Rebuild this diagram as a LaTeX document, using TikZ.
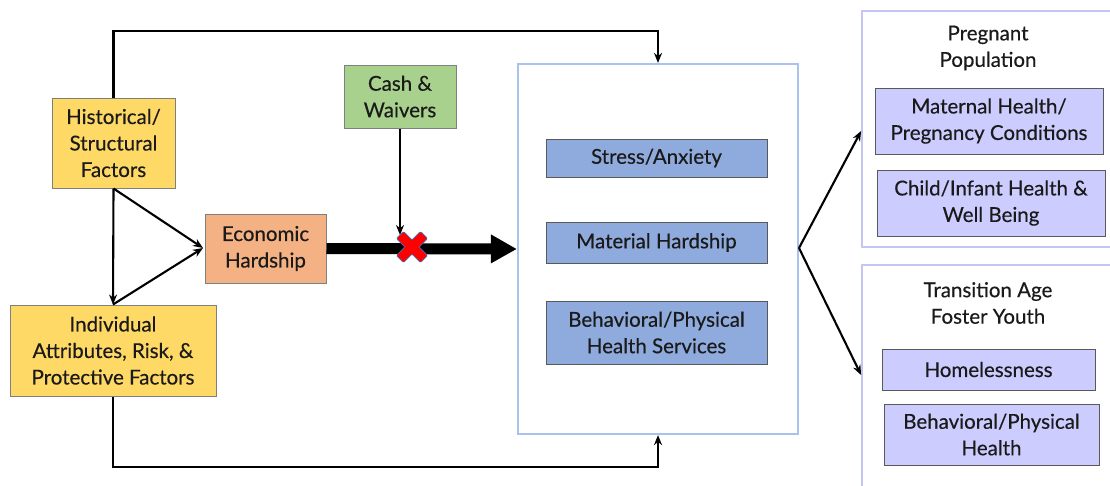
\documentclass[tikz,border=0pt]{standalone}
\usepackage{fontspec}
\setmainfont{Lato}[FakeBold=0.35]
\usetikzlibrary{arrows.meta}

\definecolor{histfill}{HTML}{FFD966}
\definecolor{econfill}{HTML}{F4B183}
\definecolor{cashfill}{HTML}{A9D18E}
\definecolor{medfill}{HTML}{8FAADC}
\definecolor{outfill}{HTML}{CCCCFF}
\definecolor{panelline}{HTML}{C3C6F2}
\definecolor{bigline}{HTML}{A9C2EE}
\definecolor{boxline}{HTML}{7F7F7F}
\definecolor{txt}{HTML}{1A1A1A}
\definecolor{xred}{HTML}{FF0000}
\definecolor{xblue}{HTML}{4472C4}

\tikzset{
  box/.style={draw=boxline, line width=1pt, inner sep=0pt, align=center,
    text=txt, font=\fontsize{20.5}{26.5}\selectfont},
  medbox/.style={box, fill=medfill, draw=black!65},
  outbox/.style={box, fill=outfill, draw=black!65},
  panel/.style={draw=panelline, line width=1.8pt, inner sep=0pt},
  title/.style={align=center, text=txt, inner sep=0pt, font=\fontsize{20.5}{26.5}\selectfont},
  arr/.style={line width=2.1pt, -{Stealth[length=10pt,width=8pt]}},
  link/.style={line width=2.1pt}
}

\begin{document}
\begin{tikzpicture}[x=1pt,y=-1pt]
\useasboundingbox (0,0) rectangle (1110,485);
\clip (0,0) rectangle (1110,485);

% causes
\node[box, fill=histfill, minimum width=123pt, minimum height=90pt] (hist) at (113.5,143)
  {Historical/\\Structural\\Factors};
\node[box, fill=histfill, minimum width=206pt, minimum height=91pt] (indiv) at (113,350.5)
  {Individual\\Attributes, Risk, \&\\Protective Factors};
\node[box, fill=econfill, minimum width=121pt, minimum height=69pt] (econ) at (265.5,248.5)
  {Economic\\Hardship};
\node[box, fill=cashfill, minimum width=112pt, minimum height=63pt] (cash) at (400,96.5)
  {Cash \&\\Waivers};

% mechanisms
\node[draw=bigline, line width=2.2pt, inner sep=0pt, minimum width=280pt, minimum height=370pt]
  (big) at (658,249) {};
\node[medbox, minimum width=221pt, minimum height=38pt] (stress) at (656.5,158) {Stress/Anxiety};
\node[medbox, minimum width=221pt, minimum height=41pt] (mat) at (656.5,242.5) {Material Hardship};
\node[medbox, minimum width=221pt, minimum height=63pt] (serv) at (656.5,332.5)
  {Behavioral/Physical\\Health Services};

% outcome panels
\node[panel, minimum width=280pt, minimum height=236pt] (preg) at (1002,129) {};
\node[title] (pregt) at (988,48) {Pregnant\\Population};
\node[outbox, minimum width=228pt, minimum height=66pt] (mhealth) at (989,121)
  {Maternal Health/\\Pregnancy Conditions};
\node[outbox, minimum width=228pt, minimum height=66pt] (child) at (991,203)
  {Child/Infant Health \&\\Well Being};

\node[panel, minimum width=280pt, minimum height=250pt] (foster) at (1002,390) {};
\node[title] (fostert) at (988,303) {Transition Age\\Foster Youth};
\node[outbox, minimum width=213pt, minimum height=41pt] (home) at (988.5,369.5) {Homelessness};
\node[outbox, minimum width=215pt, minimum height=61pt] (bph) at (991.5,434.5)
  {Behavioral/Physical\\Health};

% helper points
\coordinate (topy) at (0,31);
\coordinate (boty) at (0,467);
\coordinate (join) at (203,248);
\coordinate (xmark) at (412,247);
\coordinate (xtop) at (400,235);
\coordinate (split) at (799,248);

% direct links
\draw[arr] (hist.south) -- (indiv.north);
\draw[arr] (hist.south) -- (join);
\draw[arr] (indiv.north) -- (join);
\draw[arr] (hist.north) -- (hist.north |- topy) -| (big.north);
\draw[arr] (indiv.south) -- (indiv.south |- boty) -| (big.south);

% main pathway
\draw[line width=11pt, -{Triangle[length=26pt,width=27pt]}] (econ.east) -- (big.west);
\draw[arr] (cash.south) -- (xtop);

% blocked pathway mark
\begin{scope}[shift={(xmark)}, rotate=45]
  \fill[xred, draw=xblue, line width=0.7pt, rounded corners=1pt]
    (5,-17) -- (5,-5) -- (17,-5) -- (17,5) -- (5,5) -- (5,17)
    -- (-5,17) -- (-5,5) -- (-17,5) -- (-17,-5) -- (-5,-5) -- (-5,-17) -- cycle;
\end{scope}

% outcomes
\draw[arr] (split) -- (preg.west |- 0,131);
\draw[arr] (split) -- (foster.west |- 0,375);
\end{tikzpicture}
\end{document}
